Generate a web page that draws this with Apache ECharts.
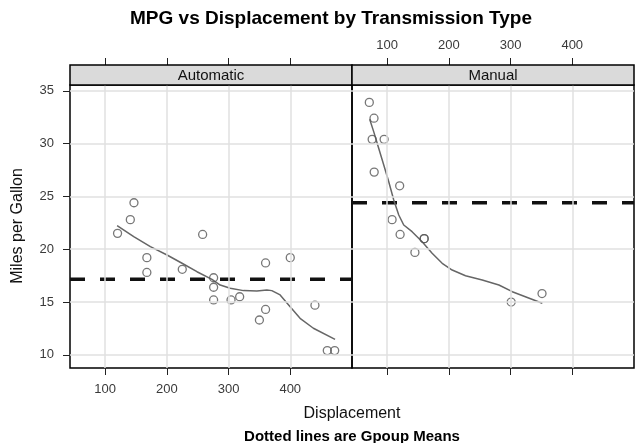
<!DOCTYPE html>
<html>
<head>
<meta charset="utf-8">
<title>MPG vs Displacement by Transmission Type</title>
<script src="https://cdn.jsdelivr.net/npm/echarts@6/dist/echarts.min.js"></script>
<style>
  html, body { margin: 0; padding: 0; background: #ffffff; }
  #chart { width: 635px; height: 443px; }
</style>
</head>
<body>
<div id="chart"></div>
<script>
// ---- data ----------------------------------------------------------------
const panelNames = ['Automatic', 'Manual'];

// Automatic cars: displacement (cu.in.) and miles per gallon
const autoDisp = [258, 360, 225, 360, 146.7, 140.8, 167.6, 167.6, 275.8, 275.8, 275.8, 472, 460, 440, 120.1, 318, 304, 350, 400];
const autoMpg  = [21.4, 18.7, 18.1, 14.3, 24.4, 22.8, 19.2, 17.8, 16.4, 17.3, 15.2, 10.4, 10.4, 14.7, 21.5, 15.5, 15.2, 13.3, 19.2];

// Manual cars
const manualDisp = [160, 160, 108, 78.7, 75.7, 71.1, 79, 120.3, 95.1, 351, 145, 301, 121];
const manualMpg  = [21, 21, 22.8, 32.4, 30.4, 33.9, 27.3, 26, 30.4, 15.8, 19.7, 15, 21.4];

// Smoothed trend per panel
const autoSmoothDisp = [119.4, 146.3, 173.3, 200.3, 224.6, 248.8, 273.1, 286.5, 302.7, 324.2, 345.9, 362.0, 370.1, 383.6, 399.8, 415.9, 437.5, 472.6];
const autoSmoothMpg  = [22.23, 21.19, 20.24, 19.45, 18.67, 17.87, 17.15, 16.61, 16.30, 16.08, 16.05, 16.14, 16.08, 15.67, 14.56, 13.46, 12.52, 11.47];
const manualSmoothDisp = [71.7, 78.2, 86.3, 94.5, 102.6, 110.7, 118.8, 126.9, 140.4, 156.7, 172.9, 189.2, 205.4, 227.0, 254.1, 281.1, 302.8, 351.5];
const manualSmoothMpg  = [32.30, 31.13, 29.55, 27.97, 26.39, 24.66, 23.24, 22.29, 21.66, 20.71, 19.61, 18.67, 18.03, 17.49, 17.09, 16.61, 15.98, 14.88];

// Group means of mpg
const groupMeans = [17.15, 24.39];

// Axis ticks and limits
const dispTicks = [100, 200, 300, 400];
const mpgTicks = [10, 15, 20, 25, 30, 35];
const dispLimits = [43.04, 500.06];
const mpgLimits = [8.755, 35.545];

// ---- layout ---------------------------------------------------------------
const FONT = '"Liberation Sans", Arial, Helvetica, sans-serif';
const GRID_TOP = 85, GRID_H = 283, GRID_W = 282;
const GRID_LEFT = [70, 352];
const STRIP_H = 20;

const zip = (a, b) => a.map((v, i) => [v, b[i]]);

function xAxisFor(gridIndex, position, showLabels) {
  return {
    type: 'value', gridIndex: gridIndex, position: position,
    offset: position === 'top' ? STRIP_H : 0,
    min: dispLimits[0], max: dispLimits[1],
    axisLine: { show: false },
    splitLine: { show: false },
    axisTick: { show: true, inside: false, length: 7, customValues: dispTicks,
                lineStyle: { color: '#222', width: 1 } },
    axisLabel: { show: showLabels, customValues: dispTicks,
                 margin: position === 'top' ? 13 : 15,
                 color: '#3a3a3a', fontSize: 13, fontFamily: FONT }
  };
}

function yAxisFor(gridIndex, showLabels) {
  return {
    type: 'value', gridIndex: gridIndex, position: 'left',
    min: mpgLimits[0], max: mpgLimits[1],
    axisLine: { show: false },
    splitLine: { show: false },
    axisTick: { show: showLabels, inside: false, length: 7, customValues: mpgTicks,
                lineStyle: { color: '#222', width: 1 } },
    axisLabel: { show: showLabels, customValues: mpgTicks, margin: 16,
                 color: '#3a3a3a', fontSize: 13, fontFamily: FONT }
  };
}

function gridLines(panel) {
  return {
    type: 'line', xAxisIndex: panel * 2, yAxisIndex: panel, data: [], z: 1, silent: true,
    markLine: {
      silent: true, symbol: 'none', animation: false,
      label: { show: false },
      lineStyle: { color: '#e0e0e0', width: 1.5, type: 'solid' },
      emphasis: { disabled: true },
      data: dispTicks.map(v => ({ xAxis: v })).concat(mpgTicks.map(v => ({ yAxis: v })))
    }
  };
}

function meanLine(panel) {
  return {
    type: 'line', xAxisIndex: panel * 2, yAxisIndex: panel, z: 2, silent: true,
    showSymbol: false,
    data: [[dispLimits[0], groupMeans[panel]], [dispLimits[1], groupMeans[panel]]],
    lineStyle: { color: '#111', width: 3.5, type: [15, 15], cap: 'butt' }
  };
}

function smoothLine(panel, xs, ys) {
  return {
    type: 'line', xAxisIndex: panel * 2, yAxisIndex: panel, z: 3, silent: true,
    showSymbol: false, smooth: false,
    data: zip(xs, ys),
    lineStyle: { color: '#666', width: 1.5 }
  };
}

function points(panel, xs, ys) {
  return {
    type: 'scatter', xAxisIndex: panel * 2, yAxisIndex: panel, z: 4, silent: true,
    symbol: 'circle', symbolSize: 8,
    data: zip(xs, ys),
    itemStyle: { color: 'rgba(255,255,255,0)', borderColor: '#555', borderWidth: 1.3 }
  };
}

function strip(panel) {
  return {
    type: 'group',
    children: [
      { type: 'rect', shape: { x: GRID_LEFT[panel], y: GRID_TOP - STRIP_H, width: GRID_W, height: STRIP_H },
        style: { fill: '#dadada', stroke: '#000', lineWidth: 1.5 }, z: 10 },
      { type: 'text', x: GRID_LEFT[panel] + GRID_W / 2, y: GRID_TOP - STRIP_H / 2 + 0.5, z: 11,
        style: { text: panelNames[panel], fill: '#111', font: '15px ' + FONT,
                 textAlign: 'center', textVerticalAlign: 'middle' } }
    ]
  };
}

const option = {
  animation: false,
  backgroundColor: '#ffffff',
  grid: GRID_LEFT.map(l => ({
    left: l, top: GRID_TOP, width: GRID_W, height: GRID_H,
    show: true, borderColor: '#000', borderWidth: 1.5, backgroundColor: 'transparent',
    containLabel: false
  })),
  xAxis: [
    xAxisFor(0, 'bottom', true),
    xAxisFor(0, 'top', false),
    xAxisFor(1, 'bottom', false),
    xAxisFor(1, 'top', true)
  ],
  yAxis: [yAxisFor(0, true), yAxisFor(1, false)],
  series: [
    gridLines(0), gridLines(1),
    meanLine(0), meanLine(1),
    smoothLine(0, autoSmoothDisp, autoSmoothMpg),
    smoothLine(1, manualSmoothDisp, manualSmoothMpg),
    points(0, autoDisp, autoMpg),
    points(1, manualDisp, manualMpg)
  ],
  graphic: [
    strip(0), strip(1),
    { type: 'text', x: 331, y: 19, style: { text: 'MPG vs Displacement by Transmission Type',
      fill: '#000', font: 'bold 19px ' + FONT, textAlign: 'center', textVerticalAlign: 'middle' } },
    { type: 'text', x: 18, y: 226, rotation: Math.PI / 2, style: { text: 'Miles per Gallon',
      fill: '#111', font: '16px ' + FONT, textAlign: 'center', textVerticalAlign: 'middle' } },
    { type: 'text', x: 352, y: 414, style: { text: 'Displacement',
      fill: '#111', font: '16px ' + FONT, textAlign: 'center', textVerticalAlign: 'middle' } },
    { type: 'text', x: 352, y: 437, style: { text: 'Dotted lines are Gpoup Means',
      fill: '#000', font: 'bold 15px ' + FONT, textAlign: 'center', textVerticalAlign: 'middle' } }
  ]
};

const chart = echarts.init(document.getElementById('chart'), null, { renderer: 'canvas' });
chart.setOption(option);
</script>
</body>
</html>
